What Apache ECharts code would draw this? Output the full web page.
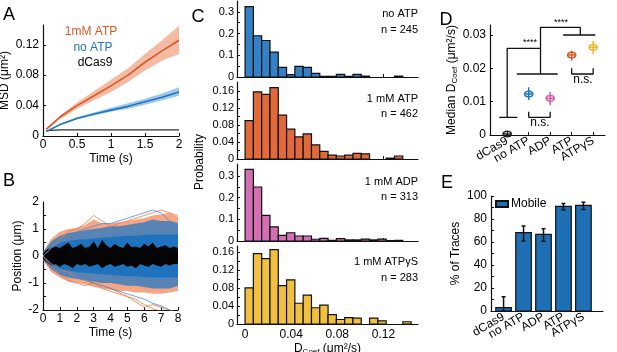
<!DOCTYPE html>
<html>
<head>
<meta charset="utf-8">
<script src="https://cdn.jsdelivr.net/npm/echarts@6/dist/echarts.min.js"></script>
<style>
  html, body { margin: 0; padding: 0; background: #fff; }
  #chart { width: 617px; height: 352px; }
</style>
</head>
<body>
<div id="chart"></div>
<script>
const FONT = '"Liberation Sans", Arial, sans-serif';

// A: MSD vs time
const msdTime    = [0.05, 0.25, 0.5, 0.75, 1, 1.25, 1.5, 1.75, 2];
const msdAtp     = [0.009, 0.025, 0.040, 0.053, 0.066, 0.080, 0.097, 0.112, 0.126];
const msdAtpHi   = [0.010, 0.027, 0.044, 0.059, 0.074, 0.089, 0.108, 0.126, 0.145];
const msdAtpLo   = [0.008, 0.022, 0.036, 0.047, 0.058, 0.071, 0.086, 0.099, 0.108];
const msdNoAtp   = [0.006, 0.015, 0.023, 0.029, 0.034, 0.039, 0.045, 0.051, 0.058];
const msdNoAtpHi = [0.0065, 0.016, 0.025, 0.031, 0.037, 0.043, 0.049, 0.056, 0.064];
const msdNoAtpLo = [0.0055, 0.014, 0.022, 0.027, 0.032, 0.036, 0.041, 0.047, 0.053];
const msdDcas9   = [0.007, 0.008, 0.008, 0.008, 0.008, 0.008, 0.008, 0.008, 0.008];

// B: position traces (envelopes + a few outlying traces)
const posTime    = [0, 0.5, 1, 1.5, 2, 2.5, 3, 3.5, 4, 4.5, 5, 5.5, 6, 6.5, 7, 7.5, 8];
const atpHi      = [0.15, 0.65, 0.9, 1.0, 1.05, 1.15, 1.35, 1.2, 1.2, 1.25, 1.3, 1.35, 1.4, 1.5, 1.55, 1.6, 1.45];
const atpLo      = [-0.15, -0.6, -0.8, -0.95, -1.0, -1.05, -1.15, -1.2, -1.25, -1.3, -1.3, -1.35, -1.35, -1.4, -1.4, -1.35, -1.3];
const noAtpHi    = [0.15, 0.55, 0.75, 0.85, 0.9, 0.95, 1.0, 1.05, 1.1, 1.1, 1.15, 1.2, 1.25, 1.35, 1.3, 1.3, 1.2];
const noAtpLo    = [-0.15, -0.5, -0.7, -0.8, -0.85, -0.9, -0.95, -1.0, -1.0, -1.05, -1.1, -1.1, -1.15, -1.2, -1.2, -1.2, -1.1];
const noAtpCoreHi = [0.1, 0.35, 0.5, 0.55, 0.6, 0.62, 0.65, 0.68, 0.7, 0.72, 0.75, 0.75, 0.78, 0.8, 0.8, 0.8, 0.8];
const noAtpCoreLo = [-0.1, -0.35, -0.5, -0.55, -0.6, -0.62, -0.65, -0.68, -0.7, -0.72, -0.75, -0.75, -0.78, -0.8, -0.8, -0.8, -0.8];
const atpTrace1  = [0, -0.3, -0.5, -0.6, -0.8, -0.9, -1.0, -1.1, -1.2, -1.35, -1.5, -1.6, -1.8, -1.95, -2.05, -2.1, -2.2];
const atpTrace2  = [0, 0.3, 0.6, 0.9, 1.0, 1.2, 1.5, 1.3, 1.1, 1.2, 1.3, 1.4, 1.5, 1.6, 1.7, 1.6, 1.5];
const atpTrace3  = [0, -0.4, -0.7, -0.9, -1.0, -1.1, -1.0, -1.2, -1.3, -1.4, -1.5, -1.7, -1.9, -1.8, -1.9, -2.0, -2.1];
const noAtpTrace1 = [0, -0.3, -0.5, -0.7, -0.8, -0.9, -1.0, -1.1, -1.2, -1.3, -1.4, -1.5, -1.6, -1.75, -1.85, -2.0, -2.1];
const noAtpTrace2 = [0, 0.3, 0.5, 0.7, 0.9, 1.0, 1.1, 1.2, 1.2, 1.3, 1.4, 1.5, 1.6, 1.7, 1.6, 1.3, 1.2];
const dcasTime   = [0, 0.25, 0.5, 0.75, 1, 1.25, 1.5, 1.75, 2, 2.25, 2.5, 2.75, 3, 3.25, 3.5, 3.75, 4,
                    4.25, 4.5, 4.75, 5, 5.25, 5.5, 5.75, 6, 6.25, 6.5, 6.75, 7, 7.25, 7.5, 7.75, 8];
const dcasHi     = [0.1, 0.25, 0.3, 0.35, 0.3, 0.4, 0.5, 0.3, 0.35, 0.45, 0.3, 0.35, 0.55, 0.3, 0.6, 0.4, 0.3,
                    0.45, 0.35, 0.3, 0.5, 0.32, 0.35, 0.3, 0.45, 0.35, 0.5, 0.3, 0.35, 0.4, 0.3, 0.35, 0.3];
const dcasLo     = [-0.1, -0.25, -0.35, -0.3, -0.4, -0.3, -0.35, -0.45, -0.3, -0.35, -0.3, -0.4, -0.35, -0.3, -0.45, -0.35, -0.3,
                    -0.4, -0.35, -0.3, -0.4, -0.35, -0.45, -0.3, -0.35, -0.4, -0.3, -0.35, -0.4, -0.3, -0.35, -0.3, -0.3];

// C: D_coef histograms (probability per bin)
const binWidth = 0.0072;
const histNoAtp = [0.324, 0.19, 0.168, 0.115, 0.044, 0.011, 0.049, 0.044, 0.017, 0.003, 0.003, 0.012, 0.003, 0.012, 0.004, 0, 0, 0, 0.004, 0];
const histAtp   = [0.09, 0.158, 0.152, 0.168, 0.103, 0.07, 0.052, 0.059, 0.033, 0.018, 0.009, 0.007, 0.009, 0.013, 0.012, 0, 0, 0.002, 0.007, 0];
const histAdp   = [0.33, 0.249, 0.118, 0.065, 0.026, 0.038, 0.023, 0.023, 0.008, 0.012, 0.003, 0.011, 0.005, 0.005, 0.009, 0.005, 0.009, 0.002, 0.003, 0];
const histAtpgs = [0.08, 0.156, 0.145, 0.165, 0.085, 0.098, 0.046, 0.064, 0.036, 0.042, 0.021, 0.01, 0.014, 0.013, 0, 0.013, 0.007, 0, 0, 0.005];

// D: median D_coef
const catNames = ['dCas9', 'no ATP', 'ADP', 'ATP', 'ATPγS'];
const catOdd = [1, 3, 5], catEven = [2, 4];
const medVal = [0.0003, 0.0123, 0.011, 0.024, 0.0263];
const medLo  = [0.0001, 0.0105, 0.009, 0.0223, 0.0242];
const medHi  = [0.0005, 0.0143, 0.013, 0.0253, 0.0283];
const brackets = [
  [[0.63, 0.0053], [1.47, 0.0053]],
  [[1.0, 0.0053], [1.0, 0.026], [2.55, 0.026]],
  [[1.45, 0.0183], [3.35, 0.0183]],
  [[2.55, 0.0183], [2.55, 0.0323], [4.4, 0.0323], [4.4, 0.0300]],
  [[3.6, 0.0300], [5.1, 0.0300]],
  [[2, 0.007], [2, 0.0053], [3, 0.0053], [3, 0.007]],
  [[4, 0.020], [4, 0.0183], [5, 0.0183], [5, 0.020]]
];

// E: % mobile traces
const mobile   = [2.9, 68.2, 66.7, 90.9, 91.8];
const mobileLo = [0, 60.9, 60.6, 88.0, 88.3];
const mobileHi = [12.4, 73.9, 71.6, 93.5, 94.6];

// colours
const BLUE = '#1f76c0', ORANGE = '#dc5822', PINK = '#d35fad', YELLOW = '#efb62a';
const medColors = ['#222', BLUE, PINK, ORANGE, YELLOW];

function zip(xs, ys) { return xs.map((x, i) => [x, ys[i]]); }

function band(gi, xs, lo, hi, color, opacity) {
  return {
    type: 'custom', xAxisIndex: gi, yAxisIndex: gi, clip: true, silent: true,
    data: [[xs[0], lo[0]]],
    renderItem: function (params, api) {
      const pts = [];
      for (let i = 0; i < xs.length; i++) pts.push(api.coord([xs[i], hi[i]]));
      for (let i = xs.length - 1; i >= 0; i--) pts.push(api.coord([xs[i], lo[i]]));
      return { type: 'polygon', shape: { points: pts }, style: { fill: color, opacity: opacity } };
    }
  };
}

function line(gi, xs, ys, color, w) {
  return {
    type: 'line', xAxisIndex: gi, yAxisIndex: gi, data: zip(xs, ys), showSymbol: false,
    lineStyle: { color: color, width: w }, itemStyle: { color: color }, clip: true, silent: true
  };
}

function hist(gi, vals, color) {
  return {
    type: 'custom', xAxisIndex: gi, yAxisIndex: gi, silent: true,
    data: vals.map((v, i) => [i * binWidth, v]),
    renderItem: function (params, api) {
      const x0 = api.value(0), v = api.value(1);
      if (!v) return;
      const p0 = api.coord([x0, v]);
      const p1 = api.coord([x0 + binWidth, 0]);
      return { type: 'rect', shape: { x: p0[0], y: p0[1], width: p1[0] - p0[0], height: p1[1] - p0[1] },
               style: { fill: color, stroke: '#111', lineWidth: 1.2 } };
    }
  };
}

function axis(o) {
  return {
    type: 'value', gridIndex: o.grid, min: o.min, max: o.max, position: o.pos,
    axisLine: { show: o.line !== false, onZero: false, lineStyle: { color: '#111', width: 1.2 } },
    axisTick: { show: o.line !== false, inside: true, length: 3, customValues: o.tickVals || o.ticks,
                lineStyle: { color: '#111', width: 1 } },
    axisLabel: { show: o.labels !== false, customValues: o.labelVals || o.ticks, color: '#000', fontSize: o.fs || 12,
                 fontFamily: FONT, margin: o.margin || 4, rotate: o.rotate || 0, formatter: o.fmt,
                 showMinLabel: true, showMaxLabel: true, hideOverlap: false },
    splitLine: { show: false },
    name: o.name || '', nameLocation: 'middle', nameGap: o.gap || 20, nameRotate: o.nameRotate,
    nameTextStyle: { color: '#000', fontSize: 12, fontFamily: FONT, lineHeight: 14,
                     rich: { sub: { fontSize: 8, fontFamily: FONT, verticalAlign: 'bottom', lineHeight: 14 } } }
  };
}

const catFmt = v => catNames[Math.round(v) - 1];
const histTicksX = [0, 0.04, 0.08, 0.12];

const grids = [
  { left: 43, top: 25, width: 136, height: 111 },
  { left: 43, top: 202, width: 135, height: 108 },
  { left: 237, top: 1, width: 181, height: 76 },
  { left: 237, top: 82, width: 181, height: 77 },
  { left: 237, top: 164, width: 181, height: 77 },
  { left: 237, top: 246, width: 181, height: 78 },
  { left: 490, top: 25, width: 115, height: 110 },
  { left: 491, top: 196, width: 112, height: 115 }
].map(g => Object.assign({ containLabel: false, outerBoundsMode: 'none' }, g));

const xAxes = [
  axis({ grid: 0, min: 0, max: 2, ticks: [0, 0.5, 1, 1.5, 2], name: 'Time (s)', gap: 14, margin: 3 }),
  axis({ grid: 1, min: 0, max: 8, ticks: [0, 1, 2, 3, 4, 5, 6, 7, 8], name: 'Time (s)', gap: 16, margin: 3 }),
  axis({ grid: 2, min: -0.007, max: 0.15, ticks: histTicksX, labels: false }),
  axis({ grid: 3, min: -0.007, max: 0.15, ticks: histTicksX, labels: false }),
  axis({ grid: 4, min: -0.007, max: 0.15, ticks: histTicksX, labels: false }),
  axis({ grid: 5, min: -0.007, max: 0.15, ticks: histTicksX, name: 'D{sub|Coef} (μm²/s)', gap: 16, margin: 5 }),
  // D and E: the category labels are split over two bottom axes so none get dropped
  axis({ grid: 6, min: 0.2, max: 5.55, ticks: [1, 2, 3, 4, 5], labelVals: catOdd, rotate: 30, fmt: catFmt, margin: 5, pos: 'bottom' }),
  axis({ grid: 7, min: 0.37, max: 5.98, ticks: [1, 2, 3, 4, 5], labelVals: catOdd, rotate: 30, fmt: catFmt, margin: 5, pos: 'bottom' }),
  axis({ grid: 6, min: 0.2, max: 5.55, ticks: catEven, line: false, rotate: 30, fmt: catFmt, margin: 5, pos: 'bottom' }),
  axis({ grid: 7, min: 0.37, max: 5.98, ticks: catEven, line: false, rotate: 30, fmt: catFmt, margin: 5, pos: 'bottom' })
];

const yAxes = [
  axis({ grid: 0, min: 0, max: 0.146, ticks: [0, 0.04, 0.08, 0.12], name: 'MSD (μm²)', gap: 27, nameRotate: 90 }),
  axis({ grid: 1, min: -2, max: 2, ticks: [-2, -1, 0, 1, 2], tickVals: [-2, -1.5, -1, -0.5, 0, 0.5, 1, 1.5],
         name: 'Position (μm)', gap: 16, nameRotate: 90 }),
  axis({ grid: 2, min: 0, max: 0.35, ticks: [0, 0.1, 0.2, 0.3], tickVals: [0, 0.05, 0.1, 0.15, 0.2, 0.25, 0.3], fs: 11, margin: 3 }),
  axis({ grid: 3, min: 0, max: 0.181, ticks: [0, 0.04, 0.08, 0.12, 0.16],
         tickVals: [0, 0.02, 0.04, 0.06, 0.08, 0.1, 0.12, 0.14, 0.16], fs: 11, margin: 3 }),
  axis({ grid: 4, min: 0, max: 0.355, ticks: [0, 0.1, 0.2, 0.3], tickVals: [0, 0.05, 0.1, 0.15, 0.2, 0.25, 0.3], fs: 11, margin: 3 }),
  axis({ grid: 5, min: 0, max: 0.173, ticks: [0, 0.04, 0.08, 0.12, 0.16],
         tickVals: [0, 0.02, 0.04, 0.06, 0.08, 0.1, 0.12, 0.14, 0.16], fs: 11, margin: 3 }),
  axis({ grid: 6, min: 0, max: 0.033, ticks: [0, 0.01, 0.02, 0.03], name: 'Median D{sub|Coef} (μm²/s)', gap: 28, nameRotate: 90 }),
  axis({ grid: 7, min: 0, max: 100, ticks: [0, 20, 40, 60, 80, 100], tickVals: [0, 10, 20, 30, 40, 50, 60, 70, 80, 90, 100],
         name: '% of Traces', gap: 19, nameRotate: 90 })
];

const series = [];
// A
series.push(band(0, msdTime, msdAtpLo, msdAtpHi, '#f2b49a', 0.9));
series.push(band(0, msdTime, msdNoAtpLo, msdNoAtpHi, '#93c1e7', 0.9));
series.push(line(0, msdTime, msdDcas9, '#333', 1.3));
series.push(line(0, msdTime, msdNoAtp, BLUE, 1.6));
series.push(line(0, msdTime, msdAtp, ORANGE, 1.6));
// B
series.push(band(1, posTime, atpLo, atpHi, '#ee6b32', 0.6));
series.push(band(1, posTime, noAtpLo, noAtpHi, '#2f7cc2', 0.8));
series.push(line(1, posTime, atpTrace1, '#f07a45', 0.8));
series.push(line(1, posTime, atpTrace2, '#f07a45', 0.8));
series.push(line(1, posTime, atpTrace3, '#f07a45', 0.8));
series.push(line(1, posTime, noAtpTrace1, '#4a8ccc', 0.8));
series.push(line(1, posTime, noAtpTrace2, '#4a8ccc', 0.8));
series.push(band(1, posTime, noAtpCoreLo, noAtpCoreHi, '#1f72bd', 1));
series.push(band(1, dcasTime, dcasLo, dcasHi, '#050505', 1));
// C
series.push(hist(2, histNoAtp, '#3381c4'));
series.push(hist(3, histAtp, '#e26a3a'));
series.push(hist(4, histAdp, '#d46fb3'));
series.push(hist(5, histAtpgs, '#f1c040'));
// D brackets
brackets.forEach(b => series.push({
  type: 'line', xAxisIndex: 6, yAxisIndex: 6, data: b, showSymbol: false, silent: true,
  lineStyle: { color: '#111', width: 1.3 }
}));
// D medians with error bars
series.push({
  type: 'custom', xAxisIndex: 6, yAxisIndex: 6, silent: true,
  data: medVal.map((m, i) => [i + 1, m, medLo[i], medHi[i], i]),
  renderItem: function (params, api) {
    const x = api.value(0), c = medColors[api.value(4)];
    const p = api.coord([x, api.value(1)]);
    const lo = api.coord([x, api.value(2)]);
    const hi = api.coord([x, api.value(3)]);
    const st = { stroke: c, lineWidth: 1.5, fill: null };
    return { type: 'group', children: [
      { type: 'line', shape: { x1: p[0], y1: lo[1], x2: p[0], y2: hi[1] }, style: st },
      { type: 'line', shape: { x1: p[0] - 4.5, y1: p[1], x2: p[0] + 4.5, y2: p[1] }, style: st },
      { type: 'ellipse', shape: { cx: p[0], cy: p[1], rx: 4, ry: 2.8 }, style: st }
    ] };
  }
});
// E bars + error bars
series.push({
  name: 'Mobile', type: 'custom', xAxisIndex: 7, yAxisIndex: 7, silent: true,
  itemStyle: { color: '#1f6fb5', borderColor: '#111', borderWidth: 1.2 },
  data: mobile.map((v, i) => [i + 1, v]),
  renderItem: function (params, api) {
    const x = api.value(0), v = api.value(1);
    const p0 = api.coord([x - 0.39, v]);
    const p1 = api.coord([x + 0.39, 0]);
    return { type: 'rect', shape: { x: p0[0], y: p0[1], width: p1[0] - p0[0], height: p1[1] - p0[1] },
             style: { fill: '#1f6fb5', stroke: '#111', lineWidth: 1.2 } };
  }
});
series.push({
  type: 'custom', xAxisIndex: 7, yAxisIndex: 7, silent: true, clip: true,
  data: mobile.map((v, i) => [i + 1, mobileLo[i], mobileHi[i]]),
  renderItem: function (params, api) {
    const x = api.value(0);
    const lo = api.coord([x, api.value(1)]);
    const hi = api.coord([x, api.value(2)]);
    const st = { stroke: '#111', lineWidth: 1.5 };
    return { type: 'group', children: [
      { type: 'line', shape: { x1: lo[0], y1: lo[1], x2: hi[0], y2: hi[1] }, style: st },
      { type: 'line', shape: { x1: hi[0] - 2, y1: hi[1], x2: hi[0] + 2, y2: hi[1] }, style: st },
      { type: 'line', shape: { x1: lo[0] - 2, y1: lo[1], x2: lo[0] + 2, y2: lo[1] }, style: st }
    ] };
  }
});

function txt(x, y, s, o) {
  return { type: 'text', x: x, y: y, silent: true,
           style: Object.assign({ text: s, fill: '#000', font: '12px ' + FONT, textAlign: 'center', textVerticalAlign: 'middle' }, o || {}) };
}
const LETTER = { font: '18px ' + FONT };
const SMALL = { font: '11px ' + FONT, textAlign: 'right' };

const graphics = [
  txt(9, 15, 'A', LETTER), txt(9, 181, 'B', LETTER), txt(198, 17, 'C', LETTER),
  txt(446, 20, 'D', LETTER), txt(447, 183, 'E', LETTER),
  txt(91, 32, '1mM ATP', { fill: ORANGE }), txt(93, 48, 'no ATP', { fill: BLUE }), txt(95, 63, 'dCas9'),
  Object.assign(txt(200, 162, 'Probability'), { rotation: Math.PI / 2 }),
  txt(418, 14, 'no ATP', SMALL), txt(418, 30, 'n = 245', SMALL),
  txt(418, 99, '1 mM ATP', SMALL), txt(418, 114, 'n = 462', SMALL),
  txt(418, 182, '1 mM ADP', SMALL), txt(418, 197, 'n = 313', SMALL),
  txt(418, 262, '1 mM ATPγS', SMALL), txt(418, 278, 'n = 283', SMALL),
  txt(530, 43, '****', { font: '9px ' + FONT }), txt(561, 23, '****', { font: '9px ' + FONT }),
  txt(540, 123, 'n.s.'), txt(583, 80, 'n.s.')
];

const chart = echarts.init(document.getElementById('chart'));
chart.setOption({
  animation: false,
  backgroundColor: '#fff',
  grid: grids,
  xAxis: xAxes,
  yAxis: yAxes,
  legend: {
    data: ['Mobile'], left: 495, top: 198, padding: 0, itemWidth: 12, itemHeight: 6, itemGap: 4, icon: 'rect',
    textStyle: { fontSize: 12, color: '#000', fontFamily: FONT, padding: [0, 0, 0, -2] }
  },
  graphic: graphics,
  series: series
});
</script>
</body>
</html>
